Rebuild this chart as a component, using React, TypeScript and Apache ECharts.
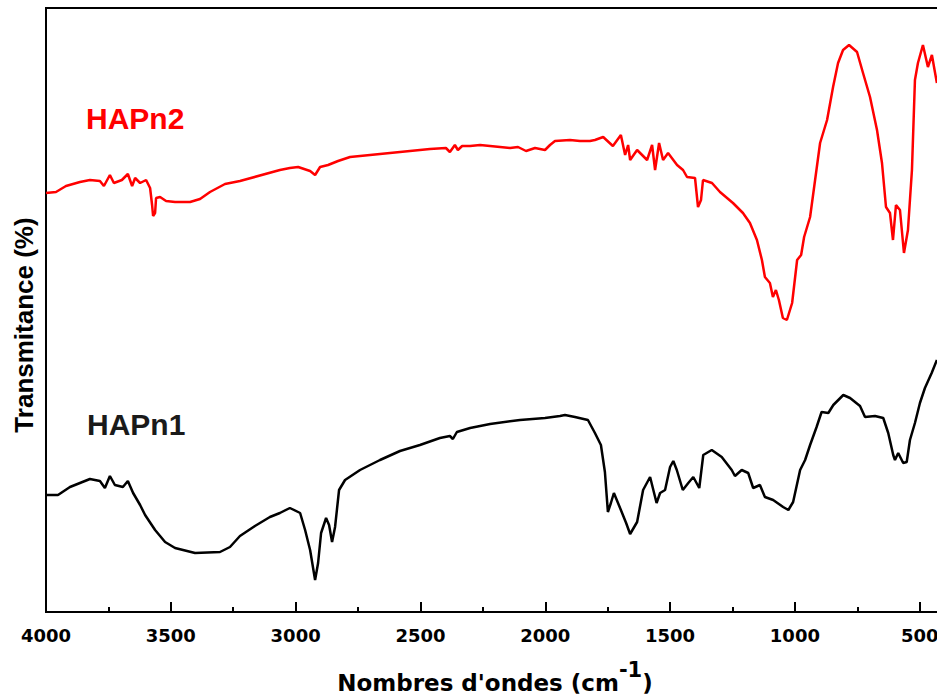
import React, { useEffect, useRef } from "react";
import * as echarts from "echarts";

// HAPn2 (red) : [wavenumber cm-1, transmittance (arb.)]
const hapn2: [number, number][] = [
  [4000, 419], [3960, 420], [3920, 426], [3864, 430], [3824, 432], [3784, 431], [3768, 426],
  [3744, 437], [3728, 429], [3696, 432], [3672, 438], [3655, 426], [3643, 434], [3623, 429],
  [3599, 432], [3583, 424], [3575, 407], [3571, 396], [3563, 399], [3559, 414], [3543, 415],
  [3519, 411], [3483, 410], [3423, 410], [3383, 413], [3343, 420], [3283, 428], [3223, 431],
  [3063, 442], [3023, 444], [2990, 445], [2942, 441], [2922, 437], [2902, 445], [2870, 447],
  [2830, 451], [2782, 455], [2702, 457], [2582, 460], [2462, 463], [2398, 464], [2382, 460],
  [2362, 467], [2350, 462], [2333, 466], [2301, 466], [2261, 467], [2181, 465], [2141, 464],
  [2109, 465], [2077, 461], [2041, 464], [2001, 462], [1981, 467], [1961, 471], [1901, 472],
  [1861, 471], [1821, 471], [1801, 472], [1768, 475], [1729, 466], [1697, 477], [1680, 457],
  [1668, 467], [1660, 452], [1632, 462], [1592, 452], [1572, 467], [1560, 442], [1544, 469],
  [1528, 452], [1508, 459], [1472, 447], [1448, 442], [1432, 435], [1400, 434], [1388, 405],
  [1376, 412], [1368, 432], [1332, 429], [1300, 420], [1248, 409], [1208, 399], [1180, 389],
  [1152, 372], [1132, 352], [1120, 335], [1100, 329], [1088, 315], [1076, 322], [1064, 312],
  [1048, 294], [1032, 292], [1011, 309], [991, 352], [975, 357], [963, 375], [939, 395],
  [919, 432], [899, 469], [871, 492], [847, 525], [827, 549], [807, 562], [783, 567],
  [751, 560], [727, 539], [699, 515], [671, 482], [651, 449], [635, 405], [619, 399],
  [607, 372], [595, 407], [579, 402], [563, 359], [547, 382], [531, 442], [519, 532],
  [507, 549], [487, 567], [467, 545], [451, 557], [439, 540], [431, 529],
];

// HAPn1 (black)
const hapn1: [number, number][] = [
  [4000, 117], [3952, 117], [3904, 125], [3864, 129], [3824, 133], [3784, 131], [3764, 124],
  [3744, 136], [3724, 127], [3692, 125], [3672, 131], [3651, 119], [3623, 107], [3603, 97],
  [3563, 82], [3523, 70], [3483, 64], [3403, 59], [3303, 60], [3263, 65], [3223, 76],
  [3163, 86], [3103, 95], [3063, 99], [3023, 104], [2982, 99], [2962, 82], [2942, 62],
  [2922, 32], [2910, 49], [2898, 79], [2878, 94], [2866, 87], [2854, 70], [2842, 85],
  [2826, 122], [2802, 132], [2742, 142], [2662, 152], [2582, 161], [2502, 167], [2422, 174],
  [2382, 176], [2370, 173], [2354, 180], [2301, 184], [2221, 188], [2101, 192], [2001, 194],
  [1941, 196], [1921, 197], [1881, 195], [1829, 192], [1801, 179], [1777, 167], [1761, 140],
  [1749, 100], [1737, 109], [1725, 119], [1697, 102], [1676, 89], [1660, 78], [1632, 90],
  [1608, 122], [1580, 135], [1554, 109], [1540, 119], [1520, 122], [1500, 145], [1487, 151],
  [1473, 142], [1449, 122], [1427, 129], [1407, 135], [1383, 124], [1367, 157], [1333, 162],
  [1293, 155], [1253, 142], [1240, 136], [1213, 142], [1187, 139], [1167, 124], [1140, 127],
  [1120, 115], [1087, 112], [1047, 105], [1026, 102], [1007, 110], [979, 142], [959, 152],
  [939, 167], [913, 185], [893, 200], [866, 199], [846, 207], [806, 217], [779, 214],
  [739, 206], [719, 195], [679, 196], [646, 194], [626, 179], [606, 157], [599, 152],
  [586, 159], [566, 149], [552, 150], [539, 172], [519, 189], [499, 209], [479, 224],
  [452, 239], [431, 252],
];

const seriesNames = ["HAPn2", "HAPn1"];
const seriesColors = ["#ff0000", "#000000"];
const xTitle = "{t|Nombres d'ondes (cm}{s|-1}{t|)}";
const yTitle = "Transmitance (%)";

export default function App() {
  const ref = useRef<HTMLDivElement>(null);
  useEffect(() => {
    if (!ref.current) return;
    const chart = echarts.init(ref.current, null, { renderer: "svg" });
    const axisFont = "DejaVu Sans";
    chart.setOption({
      animation: false,
      backgroundColor: "#ffffff",
      grid: {
        left: 46,
        top: 8,
        bottom: 87,
        right: 0.5,
        show: true,
        borderColor: "#000",
        borderWidth: 2,
        backgroundColor: "transparent",
      },
      xAxis: {
        type: "value",
        inverse: true,
        min: 0,
        max: 4000,
        interval: 500,
        axisLine: { show: true, lineStyle: { color: "#000", width: 2 } },
        axisTick: { show: true, inside: true, length: 10, lineStyle: { color: "#000", width: 2 } },
        minorTick: { show: true, splitNumber: 2, length: 5, lineStyle: { color: "#000", width: 2 } },
        splitLine: { show: false },
        axisLabel: {
          show: true,
          margin: 14,
          color: "#000",
          fontFamily: axisFont,
          fontWeight: "bold",
          fontSize: 18,
          showMinLabel: false,
          formatter: (v: number) => String(v),
        },
      },
      yAxis: {
        type: "value",
        min: 0,
        max: 604,
        axisLine: { show: true, lineStyle: { color: "#000", width: 2 } },
        axisTick: { show: false },
        axisLabel: { show: false },
        splitLine: { show: false },
      },
      graphic: [
        {
          type: "text",
          x: 495,
          y: 659,
          style: {
            text: xTitle,
            align: "center",
            verticalAlign: "top",
            rich: {
              t: {
                fontFamily: axisFont,
                fontWeight: "bold",
                fontSize: 23,
                fill: "#000",
                lineHeight: 26,
                verticalAlign: "bottom",
              },
              s: {
                fontFamily: axisFont,
                fontWeight: "bold",
                fontSize: 21,
                fill: "#000",
                verticalAlign: "top",
                padding: [0, 0, 14, 0],
              },
            },
          },
        },
        {
          type: "text",
          x: 24,
          y: 325,
          rotation: Math.PI / 2,
          style: {
            text: yTitle,
            fill: "#000",
            fontFamily: "Liberation Sans",
            fontWeight: "bold",
            fontSize: 26,
            align: "center",
            verticalAlign: "middle",
          },
        },
        {
          type: "text",
          left: 86,
          top: 103,
          style: {
            text: seriesNames[0],
            fill: seriesColors[0],
            fontFamily: "Liberation Sans",
            fontWeight: "bold",
            fontSize: 30,
          },
        },
        {
          type: "text",
          left: 87,
          top: 409,
          style: {
            text: seriesNames[1],
            fill: "#1a1a1a",
            fontFamily: "Liberation Sans",
            fontWeight: "bold",
            fontSize: 30,
          },
        },
      ],
      series: [
        {
          name: seriesNames[0],
          type: "line",
          data: hapn2,
          showSymbol: false,
          symbol: "none",
          lineStyle: { color: seriesColors[0], width: 2.5 },
        },
        {
          name: seriesNames[1],
          type: "line",
          data: hapn1,
          showSymbol: false,
          symbol: "none",
          lineStyle: { color: seriesColors[1], width: 2.5 },
        },
      ],
    });
    return () => chart.dispose();
  }, []);
  return (
    <div
      style={{
        position: "fixed",
        left: 0,
        top: 0,
        width: 937,
        height: 699,
        overflow: "hidden",
        background: "#fff",
      }}
    >
      <div ref={ref} style={{ width: 1045, height: 699 }} />
    </div>
  );
}
